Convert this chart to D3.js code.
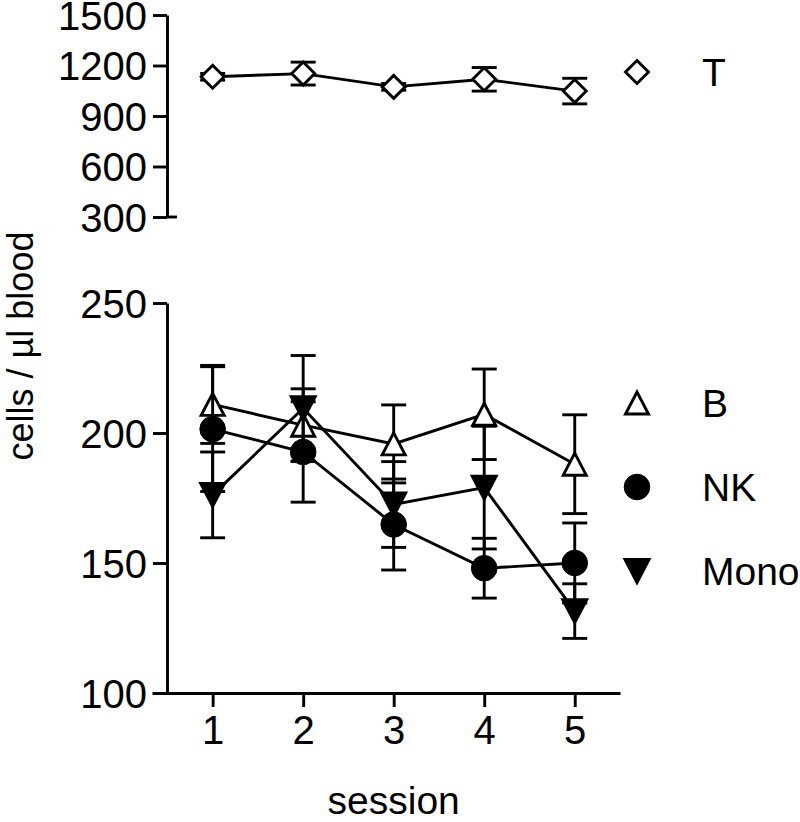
<!DOCTYPE html>
<html>
<head>
<meta charset="utf-8">
<script src="https://cdn.jsdelivr.net/npm/d3@7"></script>
<style>
  html, body { margin: 0; padding: 0; background: #fff; }
  svg { display: block; }
  text { font-family: "Liberation Sans", Arial, sans-serif; fill: #000; }
</style>
</head>
<body>
<svg id="chart" width="800" height="822"></svg>
<script>
// ---- data ----
const sessions = [1, 2, 3, 4, 5];
const sessionLabels = ["1", "2", "3", "4", "5"];
const topTicks = [300, 600, 900, 1200, 1500];
const bottomTicks = [100, 150, 200, 250];

const tMean = [1133, 1152, 1073, 1118, 1048];
const tErr  = [20, 68, 20, 70, 76];

const bMean = [211, 203, 195.8, 207.2, 188];
const bErr  = [15, 14, 15, 17.4, 19];

const nkMean = [201.5, 192.7, 164.8, 148, 150];
const nkErr  = [24, 19.3, 17.5, 11.5, 15.4];

const monoMean = [176.2, 209.5, 172.5, 179, 131.5];
const monoErr  = [16.5, 20.3, 16.5, 23.6, 10.5];

const seriesNames = ["T", "B", "NK", "Mono"];

// ---- layout ----
const svg = d3.select("#chart");
const axisX = 167;
const x = d3.scaleLinear().domain([0.33, 5.5]).range([152, 620]);
const yTop = d3.scaleLinear().domain([300, 1500]).range([217, 15]);
const yBot = d3.scaleLinear().domain([100, 250]).range([693, 303]);

const LW = 2.9;
const FS = 39;
const TFS = 40;
const FONT = "Liberation Sans, Arial, sans-serif";

function diamondPath(s) { return `M0,${-s}L${s},0L0,${s}L${-s},0Z`; }
function triUpPath(w, h) { return `M0,${-h/2}L${w/2},${h/2}L${-w/2},${h/2}Z`; }
function triDownPath(w, h) { return `M0,${h/2}L${w/2},${-h/2}L${-w/2},${-h/2}Z`; }

const shapes = {
  T:    { d: diamondPath(11.5), fill: "#fff" },
  B:    { d: triUpPath(23, 22), fill: "#fff" },
  NK:   { circle: 12.8, fill: "#000" },
  Mono: { d: triDownPath(24, 23), fill: "#000" }
};

function drawMarker(g, name, cx, cy) {
  const s = shapes[name];
  if (s.circle) {
    g.append("circle").attr("cx", cx).attr("cy", cy).attr("r", s.circle)
      .attr("fill", s.fill).attr("stroke", "#000").attr("stroke-width", 1);
  } else {
    g.append("path").attr("d", s.d).attr("transform", `translate(${cx},${cy})`)
      .attr("fill", s.fill).attr("stroke", "#000").attr("stroke-width", LW)
      .attr("stroke-linejoin", "miter");
  }
}

function drawSeries(name, means, errs, yScale) {
  const g = svg.append("g");
  const pts = sessions.map((s, i) => ({ s, m: means[i], e: errs[i] }));
  const line = d3.line().x(d => x(d.s)).y(d => yScale(d.m));
  g.append("path").datum(pts).attr("d", line)
    .attr("fill", "none").attr("stroke", "#000").attr("stroke-width", LW);
  const capW = 12.5;
  pts.forEach(d => {
    const cx = x(d.s), y1 = yScale(d.m + d.e), y2 = yScale(d.m - d.e);
    g.append("line").attr("x1", cx).attr("x2", cx).attr("y1", y1).attr("y2", y2)
      .attr("stroke", "#000").attr("stroke-width", LW);
    [y1, y2].forEach(yy => g.append("line")
      .attr("x1", cx - capW).attr("x2", cx + capW).attr("y1", yy).attr("y2", yy)
      .attr("stroke", "#000").attr("stroke-width", LW));
  });
  pts.forEach(d => drawMarker(g, name, x(d.s), yScale(d.m)));
}

function styleAxis(g) {
  g.select(".domain").attr("stroke-width", LW);
  g.selectAll(".tick line").attr("stroke-width", LW);
  g.selectAll(".tick text").attr("font-size", TFS).attr("font-family", FONT);
}

// ---- top axis ----
const topAxis = svg.append("g").attr("transform", `translate(${axisX},0)`)
  .call(d3.axisLeft(yTop).tickValues(topTicks).tickFormat(d3.format("d"))
    .tickSize(14).tickSizeOuter(0).tickPadding(6));
styleAxis(topAxis);
topAxis.selectAll(".tick text").attr("dy", "0.35em");
svg.append("line").attr("x1", axisX).attr("x2", axisX + 10)
  .attr("y1", yTop(300)).attr("y2", yTop(300)).attr("stroke", "#000").attr("stroke-width", LW);

// ---- bottom axes ----
const botAxis = svg.append("g").attr("transform", `translate(${axisX},0)`)
  .call(d3.axisLeft(yBot).tickValues(bottomTicks).tickFormat(d3.format("d"))
    .tickSize(14).tickSizeOuter(0).tickPadding(6));
styleAxis(botAxis);
botAxis.selectAll(".tick text").attr("dy", "0.35em");

const xAxis = svg.append("g").attr("transform", `translate(0,${yBot(100)})`)
  .call(d3.axisBottom(x).tickValues(sessions).tickFormat((d, i) => sessionLabels[i])
    .tickSize(14).tickSizeOuter(0).tickPadding(9));
styleAxis(xAxis);

// ---- series ----
drawSeries("T", tMean, tErr, yTop);
drawSeries("B", bMean, bErr, yBot);
drawSeries("NK", nkMean, nkErr, yBot);
drawSeries("Mono", monoMean, monoErr, yBot);

// ---- legend ----
const legendY = [72, 403, 487, 571];
const leg = svg.append("g");
seriesNames.forEach((n, i) => {
  drawMarker(leg, n, 637, legendY[i]);
  leg.append("text").attr("x", 702).attr("y", legendY[i]).attr("dy", "0.36em")
    .attr("font-size", FS).text(n);
});

// ---- axis titles ----
svg.append("text").attr("x", x(3)).attr("y", 814).attr("text-anchor", "middle")
  .attr("font-size", FS).text("session");
svg.append("text").attr("transform", "translate(33,346) rotate(-90)")
  .attr("text-anchor", "middle").attr("font-size", 36).text("cells / µl blood");
</script>
</body>
</html>
